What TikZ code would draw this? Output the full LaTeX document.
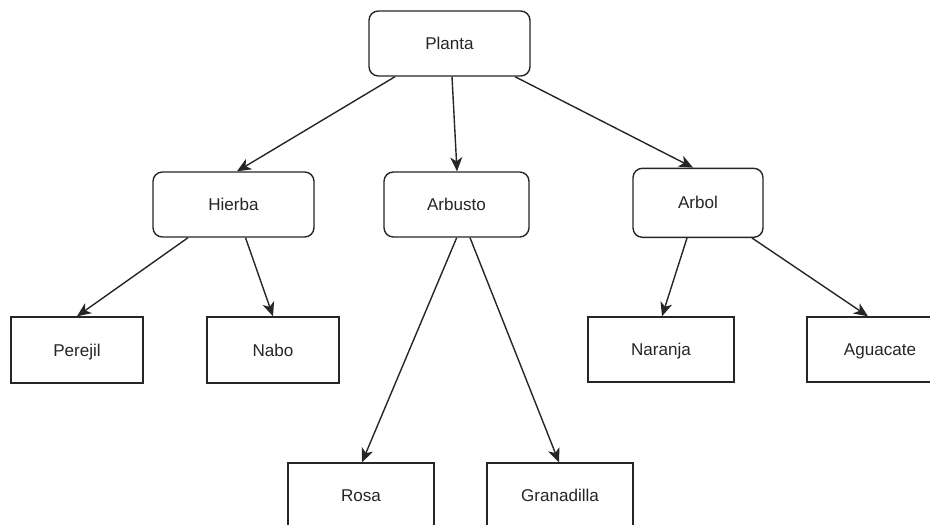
\documentclass[tikz,border=0pt]{standalone}
\usepackage{fontspec}
\setmainfont{Liberation Sans}
\usetikzlibrary{arrows.meta}
\begin{document}
\begin{tikzpicture}[x=0.75pt,y=-0.75pt,
  box/.style={draw=black!85, line width=1.05pt, fill=white, inner sep=0pt,
    font=\fontsize{12.8pt}{15pt}\selectfont, text=black!85,
    text height=9.2pt, text depth=0pt},
  rbox/.style={box, rounded corners=7pt},
  arr/.style={draw=black!85, line width=1.05pt, -{Stealth[length=10.5pt,width=9pt,inset=3pt]}}]
\useasboundingbox (0,0) rectangle (930,524);
\node[rbox, minimum width=120.75pt, minimum height=48.75pt] (planta) at (449.5,43.5) {Planta};
\node[rbox, minimum width=120.75pt, minimum height=48.75pt] (hierba) at (233.5,204.5) {Hierba};
\node[rbox, minimum width=108.75pt, minimum height=48.75pt] (arbusto) at (456.5,204.5) {Arbusto};
\node[rbox, minimum width=97.5pt, minimum height=51.75pt] (arbol) at (698,202.8) {Arbol};
\node[box, minimum width=99pt, minimum height=49.5pt] (perejil) at (77,350) {Perejil};
\node[box, minimum width=99pt, minimum height=49.5pt] (nabo) at (273,350) {Nabo};
\node[box, minimum width=109.5pt, minimum height=48.75pt] (naranja) at (661,349.5) {Naranja};
\node[box, minimum width=109.5pt, minimum height=48.75pt] (aguacate) at (880,349.5) {Aguacate};
\node[box, minimum width=109.5pt, minimum height=48.75pt] (rosa) at (361,495.5) {Rosa};
\node[box, minimum width=109.5pt, minimum height=48.75pt] (granadilla) at (560,495.5) {Granadilla};
\draw[arr] ([shift={(-54.5,0)}]planta.south) -- ([shift={(3.5,0)}]hierba.north);
\draw[arr] ([shift={(2.5,0)}]planta.south) -- ([shift={(0.5,0)}]arbusto.north);
\draw[arr] ([shift={(65.5,0)}]planta.south) -- ([shift={(-5,0)}]arbol.north);
\draw[arr] ([shift={(-45.5,0)}]hierba.south) -- (perejil.north);
\draw[arr] ([shift={(12,0)}]hierba.south) -- (nabo.north);
\draw[arr] ([shift={(0.2,0)}]arbusto.south) -- ([shift={(1,0)}]rosa.north);
\draw[arr] ([shift={(13.5,0)}]arbusto.south) -- ([shift={(-1,0)}]granadilla.north);
\draw[arr] ([shift={(-11,0)}]arbol.south) -- ([shift={(1,0)}]naranja.north);
\draw[arr] ([shift={(54,0)}]arbol.south) -- ([shift={(-12,0)}]aguacate.north);
\end{tikzpicture}
\end{document}
